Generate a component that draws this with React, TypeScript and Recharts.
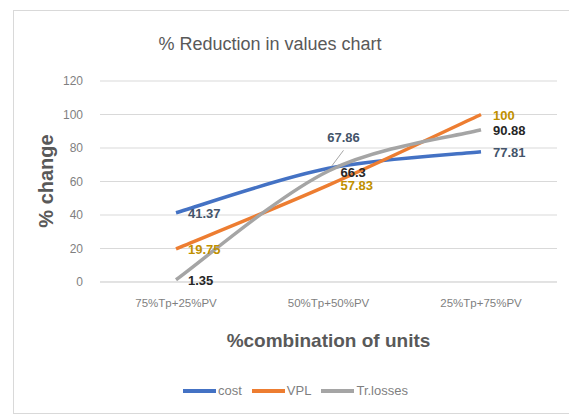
import React from 'react';
import { LineChart, Line, XAxis, YAxis, CartesianGrid, LabelList } from 'recharts';

const categories = ['75%Tp+25%PV', '50%Tp+50%PV', '25%Tp+75%PV'];
const costValues = [41.37, 67.86, 77.81];
const vplValues = [19.75, 57.83, 100];
const lossValues = [1.35, 66.3, 90.88];
const yTicks = [0, 20, 40, 60, 80, 100, 120];

const seriesNames = ['cost', 'VPL', 'Tr.losses'];
const seriesColors = ['#4472C4', '#ED7D31', '#A5A5A5'];
const labelColors = ['#44546A', '#BF9000', '#262626'];

const data = categories.map((name, i) => ({
  name,
  cost: costValues[i],
  VPL: vplValues[i],
  'Tr.losses': lossValues[i],
}));

const FONT = '"Liberation Sans", Arial, sans-serif';

// Excel-like "smoothed line": Catmull-Rom style bezier, ends clamped
const excelSmooth = (context: any) => {
  let pts: number[][] = [];
  return {
    areaStart() {},
    areaEnd() {},
    lineStart() {
      pts = [];
    },
    point(x: number, y: number) {
      pts.push([+x, +y]);
    },
    lineEnd() {
      if (!pts.length) return;
      context.moveTo(pts[0][0], pts[0][1]);
      for (let i = 0; i < pts.length - 1; i++) {
        const p0 = pts[Math.max(i - 1, 0)];
        const p1 = pts[i];
        const p2 = pts[i + 1];
        const p3 = pts[Math.min(i + 2, pts.length - 1)];
        context.bezierCurveTo(
          p1[0] + (p2[0] - p0[0]) / 6,
          p1[1] + (p2[1] - p0[1]) / 6,
          p2[0] - (p3[0] - p1[0]) / 6,
          p2[1] - (p3[1] - p1[1]) / 6,
          p2[0],
          p2[1],
        );
      }
    },
  };
};

const makeLabel = (color: string, series: string) => (props: any) => {
  const { x, y, value, index } = props;
  if (series === 'cost' && index === 1) {
    // label pulled up with a leader line, as in the original
    return (
      <g>
        <line x1={x + 15} y1={y - 18} x2={x + 3} y2={y - 2} stroke="#a6a6a6" strokeWidth={1} />
        <text x={x + 15} y={y - 26} textAnchor="middle" fill={color} fontSize={13} fontWeight="bold" fontFamily={FONT}>
          {value}
        </text>
      </g>
    );
  }
  let dy = 5;
  if (index === 1 && series === 'Tr.losses') dy = 6;
  return (
    <text x={x + 12} y={y + dy} textAnchor="start" fill={color} fontSize={13} fontWeight="bold" fontFamily={FONT}>
      {value}
    </text>
  );
};

const App: React.FC = () => {
  return (
    <div style={{ position: 'absolute', left: 0, top: 0, width: 569, height: 415, background: '#fff', overflow: 'hidden' }}>
      <div style={{ position: 'absolute', left: 13, top: 10, width: 570, height: 402, border: '1px solid #d9d9d9' }} />
      <div style={{ position: 'absolute', left: 0, width: 540, top: 34, textAlign: 'center', fontFamily: FONT, fontSize: 18, color: '#595959' }}>
        % Reduction in values  chart
      </div>
      <div
        style={{
          position: 'absolute', left: 46, top: 181, transform: 'translate(-50%, -50%) rotate(-90deg)',
          fontFamily: FONT, fontSize: 20, fontWeight: 'bold', color: '#595959', whiteSpace: 'nowrap',
        }}
      >
        % change
      </div>
      <div style={{ position: 'absolute', left: 100, width: 457, top: 330, textAlign: 'center', fontFamily: FONT, fontSize: 19, fontWeight: 'bold', color: '#595959' }}>
        %combination of units
      </div>
      <div
        style={{
          position: 'absolute', left: 183, top: 383, display: 'flex',
          fontFamily: FONT, fontSize: 13, color: '#7f7f7f',
        }}
      >
        {seriesNames.map((s, i) => (
          <div key={s} style={{ display: 'flex', alignItems: 'center', marginRight: 10 }}>
            <span style={{ display: 'inline-block', width: 33, height: 4, background: seriesColors[i], marginRight: 2 }} />
            <span>{s}</span>
          </div>
        ))}
      </div>
      <LineChart width={569} height={415} data={data} margin={{ top: 81, right: 12, bottom: 103, left: 0 }} style={{ position: 'absolute', left: 0, top: 0 }}>
        <CartesianGrid vertical={false} stroke="#d9d9d9" strokeWidth={1} />
        <XAxis
          dataKey="name"
          height={30}
          axisLine={{ stroke: '#d9d9d9' }}
          tickLine={false}
          tickSize={0}
          tickMargin={17}
          padding={{ left: 76, right: 76 }}
          tick={{ fill: '#7f7f7f', fontSize: 11.5, fontFamily: FONT }}
          interval={0}
        />
        <YAxis
          width={100}
          domain={[0, 120]}
          ticks={yTicks}
          axisLine={false}
          tickLine={false}
          tickSize={0}
          tickMargin={17}
          tick={{ fill: '#7f7f7f', fontSize: 12, fontFamily: FONT }}
        />
        {seriesNames.map((s, i) => (
          <Line key={s} type={excelSmooth as any} dataKey={s} stroke={seriesColors[i]} strokeWidth={3.5} dot={false} isAnimationActive={false}>
            <LabelList dataKey={s} content={makeLabel(labelColors[i], s)} />
          </Line>
        ))}
      </LineChart>
    </div>
  );
};

export default App;
